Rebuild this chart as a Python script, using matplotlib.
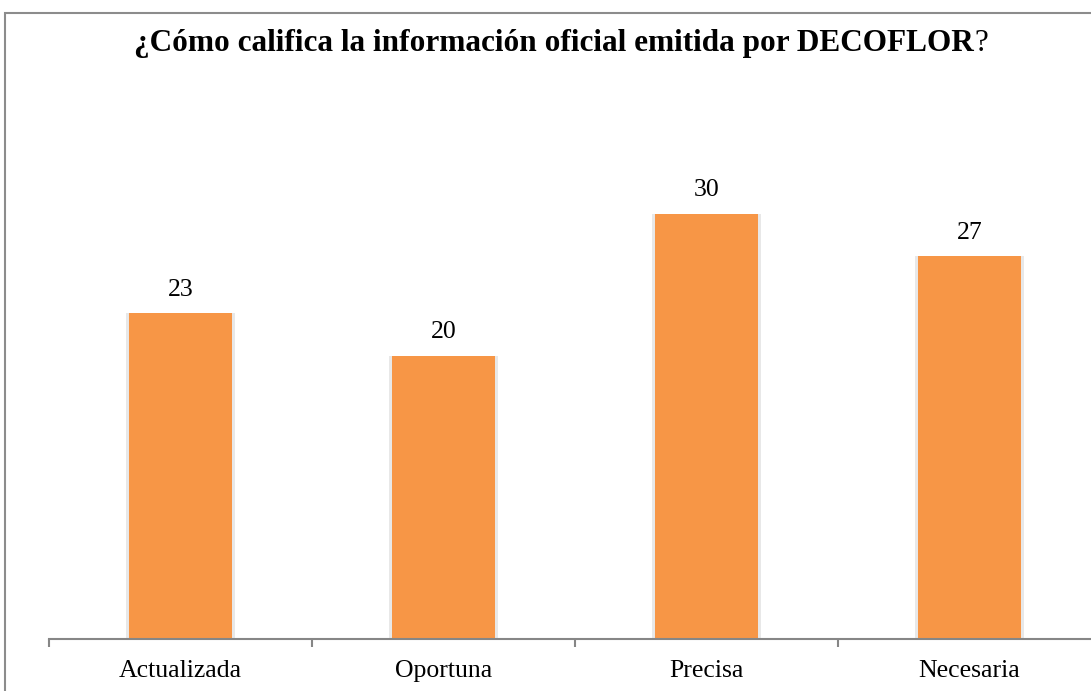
import matplotlib.pyplot as plt
from matplotlib.patches import Rectangle

categorias = ['Actualizada', 'Oportuna', 'Precisa', 'Necesaria']
valores = [23, 20, 30, 27]

plt.rcParams['font.family'] = ['Liberation Serif', 'DejaVu Serif']

W, H = 1091, 691
fig = plt.figure(figsize=(W / 100, H / 100), dpi=100)

# marco gris del grafico (solo se ve izquierda y arriba)
marco = Rectangle((4.5 / W, -0.1), 1.2, (H - 13) / H + 0.1, transform=fig.transFigure,
                  fill=False, edgecolor='#8c8c8c', linewidth=1.5)
fig.patches.append(marco)

ax = fig.add_axes([49 / W, 52 / H, 1052 / W, 496 / H])
x = range(len(categorias))
# sombra suave
ax.bar(x, valores, width=0.415, color='#d9d9d9', alpha=0.6, zorder=1)
ax.bar(x, valores, width=0.395, color='#F79646', zorder=2)

for xi, v in zip(x, valores):
    ax.annotate(str(v), (xi, v), xytext=(0, 9), textcoords='offset points',
                ha='center', va='bottom', fontsize=18.5)

ax.set_xlim(-0.5, 3.5)
ax.set_ylim(0, 35)
ax.set_xticks(list(x))
ax.set_xticklabels(categorias, fontsize=18.5)
ax.tick_params(axis='x', which='major', length=0, pad=15)
ax.set_xticks([-0.5, 0.5, 1.5, 2.5, 3.5], minor=True)
ax.tick_params(axis='x', which='minor', length=6, width=1.5, color='#868686')
ax.set_yticks([])
for s in ['top', 'right', 'left']:
    ax.spines[s].set_visible(False)
ax.spines['bottom'].set_color('#868686')
ax.spines['bottom'].set_linewidth(1.5)

# titulo: parte en negrita + "?" normal, centrado en conjunto
ty = 1 - 51 / H
t1 = fig.text(0, ty, '¿Cómo califica la información oficial emitida por DECOFLOR',
              ha='left', va='baseline', fontsize=22.5, fontweight='bold')
t2 = fig.text(0, ty, '?', ha='left', va='baseline', fontsize=22.5)
r = fig.canvas.get_renderer()
w1 = t1.get_window_extent(r).width
w2 = t2.get_window_extent(r).width
x0 = 561 - (w1 + w2) / 2
t1.set_x(x0 / W)
t2.set_x((x0 + w1) / W)

fig.savefig('out.png', dpi=100)
